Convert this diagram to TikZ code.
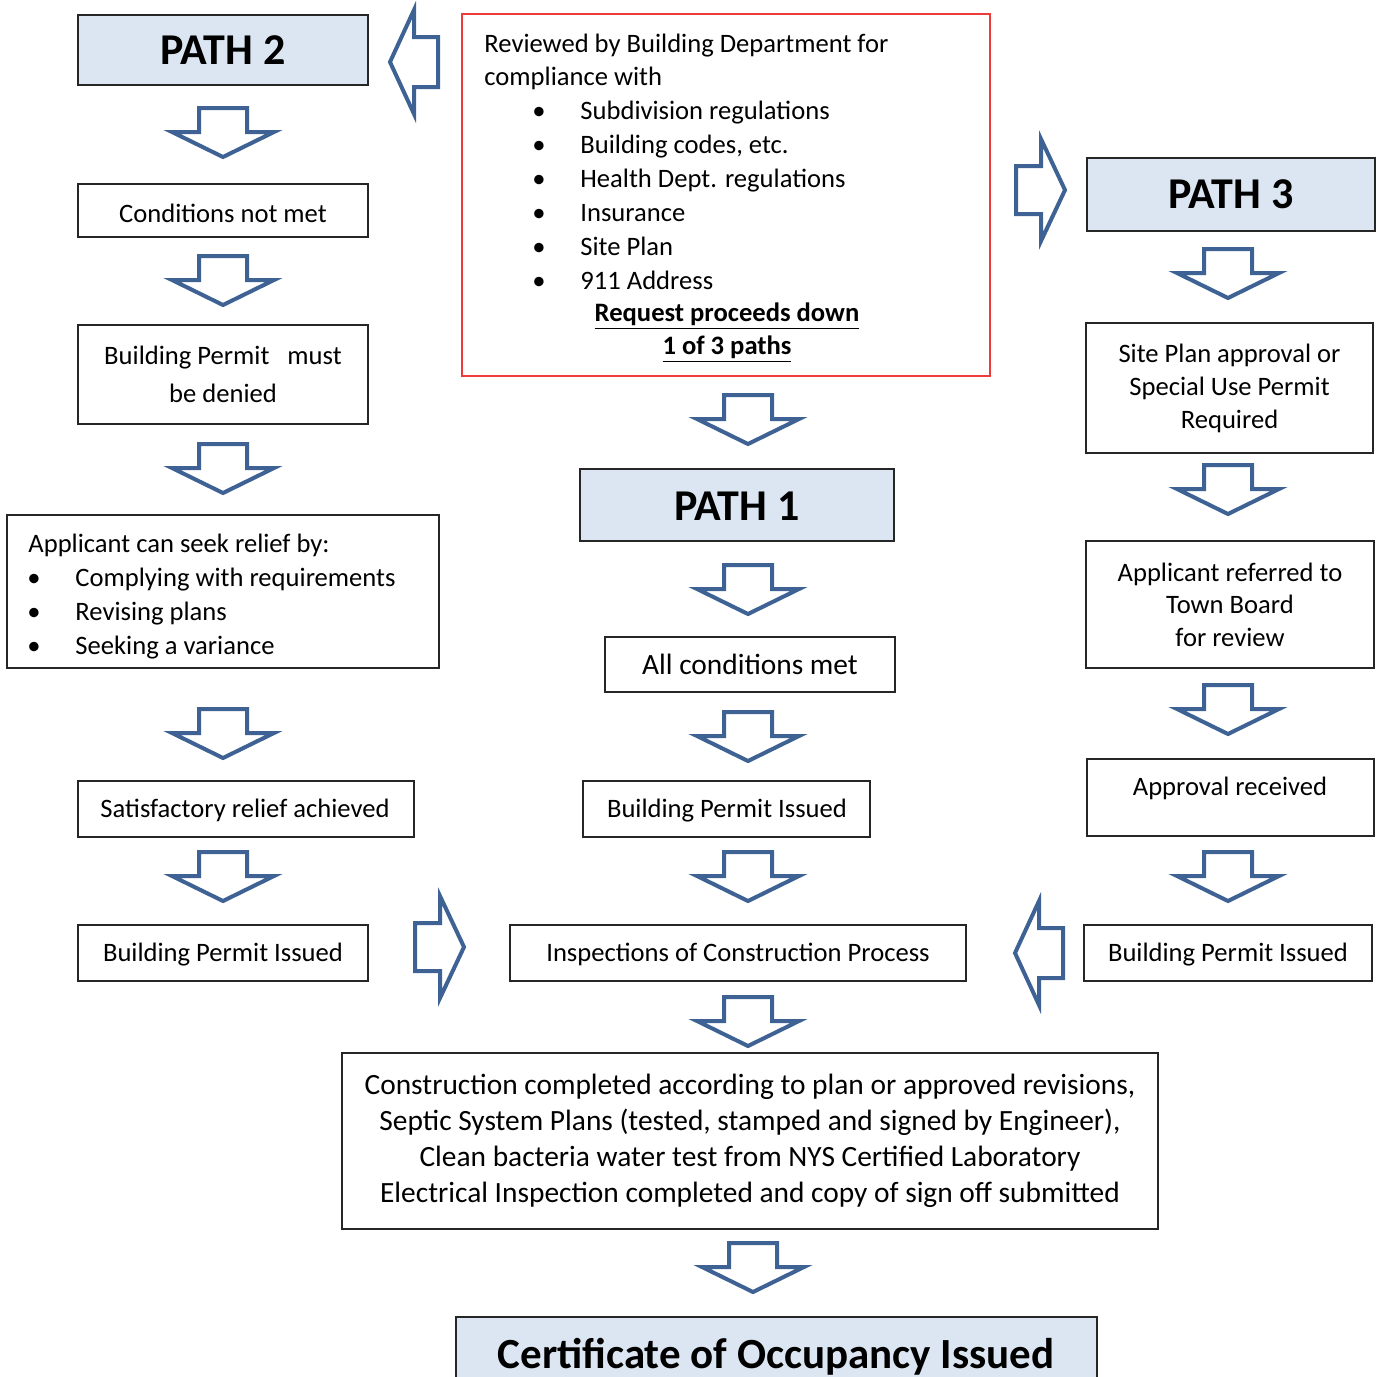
\documentclass[tikz,border=0pt]{standalone}
\usepackage{fontspec}
\setmainfont{Carlito}
\definecolor{arrowblue}{RGB}{63,98,148}
\definecolor{pathfill}{RGB}{220,230,242}
\definecolor{boxred}{RGB}{238,60,60}
\tikzset{
 box/.style={draw=black!85, line width=0.6pt, inner sep=0pt, align=center, font=\fontsize{13.3}{19}\selectfont},
 pathbox/.style={box, fill=pathfill, font=\fontsize{22}{25}\selectfont\bfseries},
 redbox/.style={draw=boxred, line width=0.9pt, inner sep=0pt},
 txt/.style={inner sep=0pt, font=\fontsize{13.3}{17}\selectfont, text height=1.1em, text depth=0.2em},
 blockarrow/.style={draw=arrowblue, line width=2pt, fill=white, line join=miter},
 darr/.pic={\draw[blockarrow] (-24,1) -- (24,1) -- (24,25) -- (51,25) -- (0,50) -- (-51,25) -- (-24,25) -- cycle;},
 rarr/.pic={\draw[blockarrow] (1,-24) -- (26,-24) -- (26,-51) -- (50,0) -- (26,51) -- (26,24) -- (1,24) -- cycle;},
 larr/.pic={\draw[blockarrow] (2,0) -- (26,-52) -- (26,-25) -- (50,-25) -- (50,25) -- (26,25) -- (26,52) -- cycle;},
}
\newcommand\mybox[7]{\node[#6, minimum width={(#4-#2)*0.5pt}, minimum height={(#5-#3)*0.5pt}] (#1) at ({(#2+#4)/2},{(#3+#5)/2}) {#7};}
\begin{document}
\begin{tikzpicture}[x=0.5pt,y=-0.5pt]
\useasboundingbox (0,0) rectangle (1376,1377);
\clip (0,0) rectangle (1376,1377);
% boxes
\mybox{p2}{78}{15}{368}{85}{pathbox}{PATH 2}
\mybox{review}{462}{14}{990}{376}{redbox}{}
\mybox{p3}{1087}{158}{1375}{231}{pathbox}{PATH 3}
\mybox{notmet}{78}{184}{368}{237}{box}{}
\mybox{denied}{78}{325}{368}{424}{box}{Building Permit\ \ \ must\\be denied}
\mybox{relief}{7}{515}{439}{668}{box}{}
\mybox{satis}{78}{781}{414}{837}{box}{}
\mybox{bpl}{78}{925}{368}{981}{box}{}
\mybox{p1}{580}{469}{894}{541}{pathbox}{}
\mybox{allmet}{605}{637}{895}{692}{box}{}
\mybox{bpc}{583}{781}{870}{837}{box}{}
\mybox{insp}{510}{925}{966}{981}{box}{}
\mybox{site}{1086}{323}{1373}{453}{box, font=\fontsize{13.3}{16.5}\selectfont}{Site Plan approval or\\Special Use Permit\\Required}
\mybox{referred}{1086}{541}{1374}{668}{box, font=\fontsize{13.3}{16.3}\selectfont}{Applicant referred to\\Town Board\\for review}
\mybox{approval}{1087}{759}{1374}{836}{box}{}
\mybox{bpr}{1084}{925}{1372}{981}{box}{}
\mybox{done}{342}{1053}{1158}{1229}{box, font=\fontsize{14.7}{18}\selectfont}{Construction completed according to plan or approved revisions,\\Septic System Plans (tested, stamped and signed by Engineer),\\Clean bacteria water test from NYS Certified Laboratory\\Electrical Inspection completed and copy of sign off submitted}
\mybox{cert}{456}{1317}{1097}{1400}{pathbox}{}
% single-line texts placed at their visual centres
\node[txt] (notmettext) at (223,213) {Conditions not met};
\node[txt] (satistext) at (245,808) {Satisfactory relief achieved};
\node[txt] (bpltext) at (223,952) {Building Permit Issued};
\node[txt, font=\fontsize{22}{25}\selectfont\bfseries] (p1text) at (737,511) {PATH 1};
\node[txt, font=\fontsize{14.7}{17}\selectfont] (allmettext) at (750,665) {All conditions met};
\node[txt] (bpctext) at (727,808) {Building Permit Issued};
\node[txt] (insptext) at (738,952) {Inspections of Construction Process};
\node[txt] (approvaltext) at (1230,786) {Approval received};
\node[txt] (bprtext) at (1228,952) {Building Permit Issued};
\node[txt, font=\fontsize{21.5}{25}\selectfont\bfseries] (certtext) at (776,1359) {Certificate of Occupancy Issued};
% review box text
\node[txt, anchor=west] (r1) at (484,43) {Reviewed by Building Department for};
\node[txt, anchor=west] (r2) at (484,76) {compliance with};
\foreach \yy/\tt [count=\i] in {110/Subdivision regulations,144/{Building codes, etc.},178/Health Dept. regulations,212/Insurance,246/Site Plan,280/911 Address}{
  \node[txt] (rb\i) at (539,\yy) {\textbullet};
  \node[txt, anchor=west] (ri\i) at (580,\yy) {\tt};
}
\node[txt] (rq1) at (727,312) {\underline{\textbf{Request proceeds down}}};
\node[txt] (rq2) at (727,345) {\underline{\textbf{1 of 3 paths}}};
% relief box text
\node[txt, anchor=west] (a0) at (28,543) {Applicant can seek relief by:};
\foreach \yy/\tt [count=\i] in {577/Complying with requirements,611/Revising plans,645/Seeking a variance}{
  \node[txt] (ab\i) at (34,\yy) {\textbullet};
  \node[txt, anchor=west] (ai\i) at (75,\yy) {\tt};
}
% down arrows
\foreach \yy in {107,255,443,708,851} \pic at (223,\yy) {darr};
\foreach \yy in {394,564,711,851,996} \pic at (748,\yy) {darr};
\pic at (753,1242) {darr};
\foreach \yy in {248,464,684,851} \pic at (1228,\yy) {darr};
% side arrows
\pic at (388,62) {larr};
\pic at (1015,190) {rarr};
\pic at (414,947) {rarr};
\pic at (1013,953) {larr};
\end{tikzpicture}
\end{document}
